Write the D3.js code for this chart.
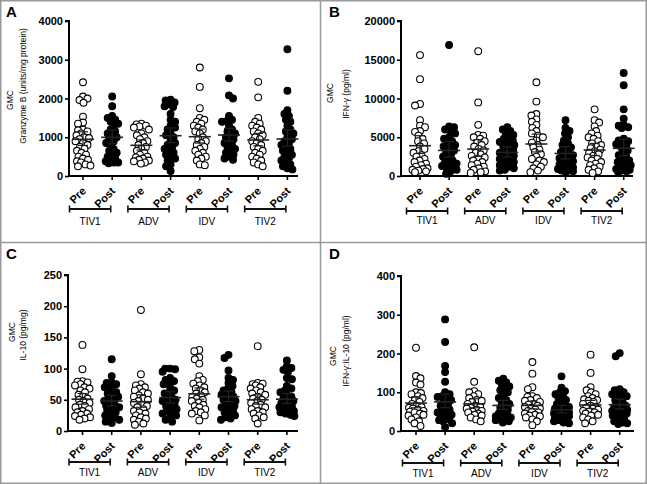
<!DOCTYPE html>
<html><head><meta charset="utf-8">
<script src="https://cdn.jsdelivr.net/npm/d3@7"></script>
<style>
body{margin:0;background:#fff}
svg{display:block}
text{font-family:Arial,"Liberation Sans",sans-serif;fill:#000}
</style>
</head><body>
<svg id="chart" width="647" height="484"></svg>
<script>
// ---------- data ----------
const groups = ["TIV1", "ADV", "IDV", "TIV2"];
const timepoints = ["Pre", "Post"];
const panelLetters = ["A", "B", "C", "D"];
const yTitleTop = ["GMC", "GMC", "GMC", "GMC"];
const yTitleBottom = ["Granzyme B (units/mg protein)", "IFN-\u03b3 (pg/ml)", "IL-10 (pg/mg)", "IFN-\u03b3:IL-10 (pg/ml)"];
const yTicksA = [0, 1000, 2000, 3000, 4000];
const yTicksB = [0, 5000, 10000, 15000, 20000];
const yTicksC = [0, 50, 100, 150, 200, 250];
const yTicksD = [0, 100, 200, 300, 400];

// Panel A: Granzyme B (TIV1 Pre, TIV1 Post, ADV Pre, ADV Post, IDV Pre, IDV Post, TIV2 Pre, TIV2 Post)
const granzymeB = [
  [2420, 2050, 2000, 1960, 1890, 1530, 1380, 1350, 1200, 1180, 1150, 1100, 1050, 1000, 980, 950, 900, 850, 800, 750, 700, 650, 600, 550, 500, 450, 420, 380, 350, 300, 270, 250],
  [2050, 1800, 1550, 1500, 1450, 1400, 1350, 1300, 1200, 1150, 1100, 1050, 1000, 950, 900, 850, 800, 700, 650, 600, 550, 500, 450, 400, 380, 350, 350, 330],
  [1350, 1330, 1300, 1280, 1250, 1200, 1100, 1050, 1000, 950, 900, 850, 800, 750, 700, 650, 600, 550, 500, 480, 450, 420, 400, 380, 350, 320],
  [1970, 1950, 1900, 1850, 1800, 1780, 1600, 1450, 1400, 1300, 1250, 1200, 1100, 1050, 1000, 900, 850, 800, 750, 700, 650, 600, 550, 500, 450, 400, 300, 250, 130],
  [2800, 2300, 1750, 1500, 1450, 1400, 1350, 1300, 1250, 1200, 1150, 1100, 1000, 950, 900, 850, 800, 750, 700, 650, 600, 550, 500, 450, 400, 300, 280],
  [2520, 2080, 2000, 1550, 1450, 1420, 1400, 1300, 1200, 1150, 1100, 1050, 1000, 950, 900, 850, 800, 750, 700, 650, 600, 550, 500, 450, 420],
  [2430, 2030, 1500, 1400, 1350, 1300, 1250, 1200, 1150, 1100, 1050, 1000, 950, 900, 850, 800, 750, 700, 650, 600, 550, 500, 450, 400, 350, 300, 250],
  [3270, 2200, 1700, 1600, 1550, 1450, 1400, 1300, 1200, 1150, 1100, 1000, 950, 900, 850, 800, 750, 700, 650, 600, 550, 500, 450, 400, 350, 300, 250, 200, 170]
];
const granzymeBGmc = [947, 998, 792, 1040, 1014, 1058, 929, 955];
const granzymeBLow = [790, 830, 670, 860, 850, 900, 780, 770];
const granzymeBHigh = [1140, 1190, 930, 1240, 1210, 1230, 1100, 1190];

// Panel B: IFN-gamma
const ifng = [
  [15600, 12500, 9300, 9100, 7200, 6500, 6300, 5800, 5700, 5200, 4800, 4500, 4200, 3800, 3500, 3200, 3000, 2700, 2500, 2200, 2000, 1800, 1600, 1400, 1200, 1000, 900, 800, 700, 600, 500],
  [16900, 6400, 6300, 6000, 5800, 5500, 5000, 4800, 4500, 4200, 4000, 3800, 3500, 3300, 3000, 2800, 2500, 2300, 2000, 1800, 1600, 1500, 1300, 1200, 1000, 800, 600, 300],
  [16100, 9500, 6600, 5300, 5200, 5000, 4800, 4500, 4300, 4000, 3800, 3500, 3300, 3000, 2800, 2600, 2400, 2200, 2000, 1800, 1600, 1400, 1200, 1000, 800, 600, 500, 400],
  [6300, 6000, 5800, 5500, 5300, 5000, 4800, 4600, 4400, 4200, 4000, 3800, 3600, 3400, 3200, 3000, 2800, 2600, 2400, 2200, 2000, 1800, 1600, 1400, 1200, 1000, 800, 700],
  [12100, 9600, 8000, 7800, 7300, 7000, 6600, 6200, 5800, 5500, 5200, 5000, 4600, 4300, 4000, 3700, 3400, 3100, 2800, 2500, 2200, 2000, 1800, 1500, 1200, 1000, 700, 500],
  [7200, 6200, 5800, 5500, 5000, 4600, 4200, 4000, 3700, 3400, 3100, 2900, 2700, 2500, 2300, 2100, 1900, 1700, 1500, 1300, 1100, 1000, 900, 800, 700, 600, 500],
  [8600, 7200, 6900, 6400, 5800, 5500, 5200, 5000, 4800, 4500, 4200, 4000, 3800, 3600, 3400, 3200, 3000, 2800, 2600, 2400, 2200, 2000, 1800, 1600, 1400, 1200, 1000, 800, 600, 400],
  [13300, 11700, 8600, 7400, 6600, 6500, 6300, 6200, 4800, 4600, 4500, 4300, 4100, 3900, 3600, 3300, 3000, 2700, 2500, 2200, 2000, 1800, 1600, 1400, 1200, 1000, 900, 800, 700, 600, 500]
];
const ifngGmc = [3910, 3300, 3480, 3040, 4130, 2910, 3350, 3570];
const ifngLow = [2900, 2450, 2550, 2450, 3100, 2200, 2650, 2600];
const ifngHigh = [5200, 4430, 4700, 3750, 5400, 3800, 4200, 4750];

// Panel C: IL-10
const il10 = [
  [138, 99, 80, 79, 78, 75, 73, 70, 68, 65, 62, 58, 55, 52, 50, 48, 45, 42, 40, 38, 35, 32, 30, 28, 26, 24, 22, 20, 18],
  [115, 88, 78, 77, 75, 73, 70, 65, 62, 60, 57, 55, 52, 50, 48, 45, 42, 40, 38, 35, 32, 30, 28, 25, 22, 20, 18, 15, 13],
  [194, 91, 75, 73, 70, 68, 65, 62, 60, 57, 55, 52, 50, 48, 45, 42, 40, 38, 35, 32, 30, 28, 25, 22, 20, 18, 15, 12, 10],
  [100, 100, 99, 95, 85, 82, 80, 78, 75, 70, 65, 62, 60, 55, 52, 50, 48, 45, 42, 40, 38, 35, 32, 30, 28, 25, 22, 18, 15],
  [130, 128, 118, 115, 108, 88, 82, 80, 76, 73, 70, 68, 65, 62, 60, 57, 55, 52, 50, 48, 45, 42, 40, 38, 35, 32, 30, 28, 25, 17],
  [122, 117, 97, 85, 82, 77, 72, 68, 65, 62, 60, 58, 55, 52, 50, 48, 45, 42, 40, 38, 35, 32, 30, 28, 25, 22, 20, 18],
  [136, 77, 76, 75, 73, 70, 68, 65, 62, 60, 58, 55, 52, 50, 48, 45, 42, 40, 38, 35, 32, 30, 28, 25, 22, 20, 12],
  [113, 104, 101, 98, 94, 85, 83, 72, 68, 65, 62, 58, 55, 52, 50, 48, 45, 42, 40, 38, 36, 34, 32, 30, 28, 26, 24]
];
const il10Gmc = [51, 48, 47, 53.6, 59.5, 55, 50, 51];
const il10Low = [43, 40, 38, 45, 51, 47, 43, 44];
const il10High = [60, 57, 58, 63, 69, 64, 58, 60];

// Panel D: IFN-gamma : IL-10 ratio
const ratio = [
  [215, 142, 136, 125, 120, 100, 98, 95, 90, 85, 80, 75, 70, 65, 62, 60, 58, 55, 52, 50, 48, 45, 42, 40, 35, 30, 25, 20, 13],
  [288, 230, 168, 152, 127, 100, 95, 90, 88, 85, 80, 75, 70, 65, 60, 55, 50, 48, 45, 42, 40, 35, 30, 28, 25, 20, 10],
  [216, 127, 103, 100, 95, 90, 85, 80, 78, 75, 70, 65, 62, 60, 58, 55, 52, 50, 48, 45, 42, 40, 35, 30, 25],
  [135, 130, 125, 120, 115, 110, 105, 100, 90, 85, 80, 75, 70, 65, 60, 55, 50, 45, 42, 40, 38, 35, 32, 30, 28, 25, 22],
  [178, 148, 113, 108, 90, 88, 85, 80, 78, 75, 70, 68, 65, 62, 60, 58, 55, 52, 50, 48, 45, 42, 40, 38, 35, 30, 25, 15],
  [141, 112, 103, 100, 95, 90, 85, 80, 75, 70, 65, 62, 60, 58, 55, 52, 50, 48, 45, 42, 40, 38, 35, 32, 30, 28, 25, 22, 20],
  [197, 150, 113, 105, 100, 95, 90, 85, 82, 80, 78, 75, 70, 65, 62, 60, 58, 55, 52, 50, 48, 45, 42, 40, 35, 30, 25, 20],
  [201, 193, 108, 105, 100, 98, 95, 90, 85, 80, 75, 70, 65, 62, 60, 58, 55, 52, 50, 48, 45, 42, 40, 35, 30, 25, 22, 20, 18]
];
const ratioGmc = [72, 75, 70, 66, 66, 55, 67, 68];
const ratioLow = [60, 60, 60, 56, 57, 47, 58, 57];
const ratioHigh = [88, 95, 83, 79, 77, 66, 79, 82];

// ---------- layout ----------
const panels = [
  {values: granzymeB, gmc: granzymeBGmc, lo: granzymeBLow, hi: granzymeBHigh, ticks: yTicksA,
   ox: 0, oy: 0, axisX: 69, xEnd: 298, yTop: 21, yBot: 176, cat0: 83, step: 29.2,
   t1: [13, 100], t2: [26, 86], brY: 209, labY: 225},
  {values: ifng, gmc: ifngGmc, lo: ifngLow, hi: ifngHigh, ticks: yTicksB,
   ox: 323, oy: 0, axisX: 78, xEnd: 310, yTop: 21, yBot: 176, cat0: 97, step: 29.1,
   t1: [10, 93], t2: [26, 94], brY: 211, labY: 224},
  {values: il10, gmc: il10Gmc, lo: il10Low, hi: il10High, ticks: yTicksC,
   ox: 0, oy: 242, axisX: 68, xEnd: 298, yTop: 33, yBot: 189, cat0: 82.5, step: 29.2,
   t1: [15, 90], t2: [26, 93], brY: 220, labY: 234},
  {values: ratio, gmc: ratioGmc, lo: ratioLow, hi: ratioHigh, ticks: yTicksD,
   ox: 323, oy: 242, axisX: 78, xEnd: 311, yTop: 34, yBot: 189, cat0: 93, step: 29.1,
   t1: [13, 114], t2: [26, 109], brY: 221, labY: 235}
];

const svg = d3.select("#chart");
svg.append("rect").attr("x", 0).attr("y", 0).attr("width", 647).attr("height", 484).attr("fill", "#fff");

const R = 3.4, MIN_D = 4.8, MAX_W = 7.5;

function swarm(vals, y) {
  const order = d3.range(vals.length).sort((a, b) => vals[b] - vals[a]);
  const placed = [];
  const xs = new Array(vals.length);
  let flip = 1;
  for (const i of order) {
    const py = y(vals[i]);
    let best = null;
    for (let k = 0; k <= MAX_W && best === null; k += 0.5) {
      const cands = k === 0 ? [0] : [flip * k, -flip * k];
      for (const dx of cands) {
        if (placed.every(p => (p.x - dx) ** 2 + (p.y - py) ** 2 >= MIN_D * MIN_D)) { best = dx; break; }
      }
    }
    if (best === null) {
      let bestD = -1;
      for (let dx = -MAX_W; dx <= MAX_W; dx += 0.5) {
        const md = d3.min(placed, p => (p.x - dx) ** 2 + (p.y - py) ** 2);
        if (md > bestD) { bestD = md; best = dx; }
      }
    }
    flip = -flip;
    placed.push({x: best, y: py});
    xs[i] = best;
  }
  return xs;
}

panels.forEach((P, pi) => {
  const g = svg.append("g").attr("transform", `translate(${P.ox},${P.oy})`);
  const cats = d3.range(8);
  const x = d3.scalePoint().domain(cats)
    .range([P.cat0, P.cat0 + 7 * P.step]);
  const yMax = P.ticks[P.ticks.length - 1];
  const y = d3.scaleLinear().domain([0, yMax]).range([P.yBot, P.yTop]);

  // panel letter
  g.append("text").attr("x", 6).attr("y", 17).attr("font-size", 15).attr("font-weight", "bold").text(panelLetters[pi]);

  // y titles
  g.append("text").attr("transform", `translate(${P.t1[0]},${P.t1[1]}) rotate(-90)`)
    .attr("text-anchor", "middle").attr("font-size", 8.5).text(yTitleTop[pi]);
  g.append("text").attr("transform", `translate(${P.t2[0]},${P.t2[1]}) rotate(-90)`)
    .attr("text-anchor", "middle").attr("font-size", 8.5).text(yTitleBottom[pi]);

  // y axis
  const yAxis = g.append("g").attr("transform", `translate(${P.axisX},0)`)
    .call(d3.axisLeft(y).tickValues(P.ticks).tickFormat(d3.format("d")).tickSize(4).tickPadding(2));
  yAxis.select(".domain").attr("stroke-width", 2).attr("d", `M-4,${y(yMax)}H0V${y(0)}`);
  yAxis.selectAll(".tick line").attr("stroke-width", 1.6);
  yAxis.selectAll("text").attr("font-size", 11).attr("font-weight", "bold").attr("font-family", "Arial, 'Liberation Sans', sans-serif");

  // x axis line
  g.append("line").attr("x1", P.axisX - 1).attr("x2", P.xEnd).attr("y1", P.yBot).attr("y2", P.yBot)
    .attr("stroke", "#000").attr("stroke-width", 2);
  g.selectAll(".xt").data(cats).enter().append("line")
    .attr("x1", d => x(d)).attr("x2", d => x(d)).attr("y1", P.yBot).attr("y2", P.yBot + 4)
    .attr("stroke", "#000").attr("stroke-width", 1.6);
  g.selectAll(".xl").data(cats).enter().append("text")
    .attr("transform", d => `translate(${x(d) + 1},${P.yBot + 13}) rotate(-45)`)
    .attr("text-anchor", "end").attr("dy", "0.35em")
    .attr("font-size", 11).attr("font-weight", "bold")
    .text(d => timepoints[d % 2]);

  // group brackets
  groups.forEach((gname, gi) => {
    const x1 = x(gi * 2) - 13.5, x2 = x(gi * 2 + 1) - 1.5;
    const b = g.append("g");
    b.append("line").attr("x1", x1).attr("x2", x2).attr("y1", P.brY).attr("y2", P.brY).attr("stroke", "#111").attr("stroke-width", 2);
    b.append("line").attr("x1", x1).attr("x2", x1).attr("y1", P.brY - 3.5).attr("y2", P.brY + 3.5).attr("stroke", "#111").attr("stroke-width", 1.6);
    b.append("line").attr("x1", x2).attr("x2", x2).attr("y1", P.brY - 3.5).attr("y2", P.brY + 3.5).attr("stroke", "#111").attr("stroke-width", 1.6);
    b.append("text").attr("x", (x1 + x2) / 2).attr("y", P.labY).attr("text-anchor", "middle").attr("font-size", 10).text(gname);
  });

  // points
  cats.forEach(ci => {
    const vals = P.values[ci];
    const xs = swarm(vals, y);
    const filled = ci % 2 === 1;
    g.append("g").selectAll("circle").data(vals).enter().append("circle")
      .attr("cx", (d, i) => x(ci) + xs[i]).attr("cy", d => y(d)).attr("r", R)
      .attr("fill", filled ? "#000" : "#fff").attr("stroke", "#000").attr("stroke-width", 1.1);
  });

  // GMC + CI
  cats.forEach(ci => {
    const cx = x(ci);
    const m = g.append("g").attr("stroke", "#222");
    m.append("line").attr("x1", cx - 11).attr("x2", cx + 11).attr("y1", y(P.gmc[ci])).attr("y2", y(P.gmc[ci])).attr("stroke-width", 1.6);
    m.append("line").attr("x1", cx).attr("x2", cx).attr("y1", y(P.lo[ci])).attr("y2", y(P.hi[ci])).attr("stroke-width", 1.2);
    m.append("line").attr("x1", cx - 5).attr("x2", cx + 5).attr("y1", y(P.lo[ci])).attr("y2", y(P.lo[ci])).attr("stroke-width", 1.2);
    m.append("line").attr("x1", cx - 5).attr("x2", cx + 5).attr("y1", y(P.hi[ci])).attr("y2", y(P.hi[ci])).attr("stroke-width", 1.2);
  });
});

// panel frames
const frame = svg.append("g").attr("fill", "none").attr("stroke", "#9a9a9a").attr("stroke-width", 1.5);
frame.append("rect").attr("x", 0.75).attr("y", 0.75).attr("width", 645.5).attr("height", 482.5);
frame.append("line").attr("x1", 320.5).attr("x2", 320.5).attr("y1", 0).attr("y2", 484);
frame.append("line").attr("x1", 0).attr("x2", 647).attr("y1", 242.5).attr("y2", 242.5);
</script>
</body></html>
